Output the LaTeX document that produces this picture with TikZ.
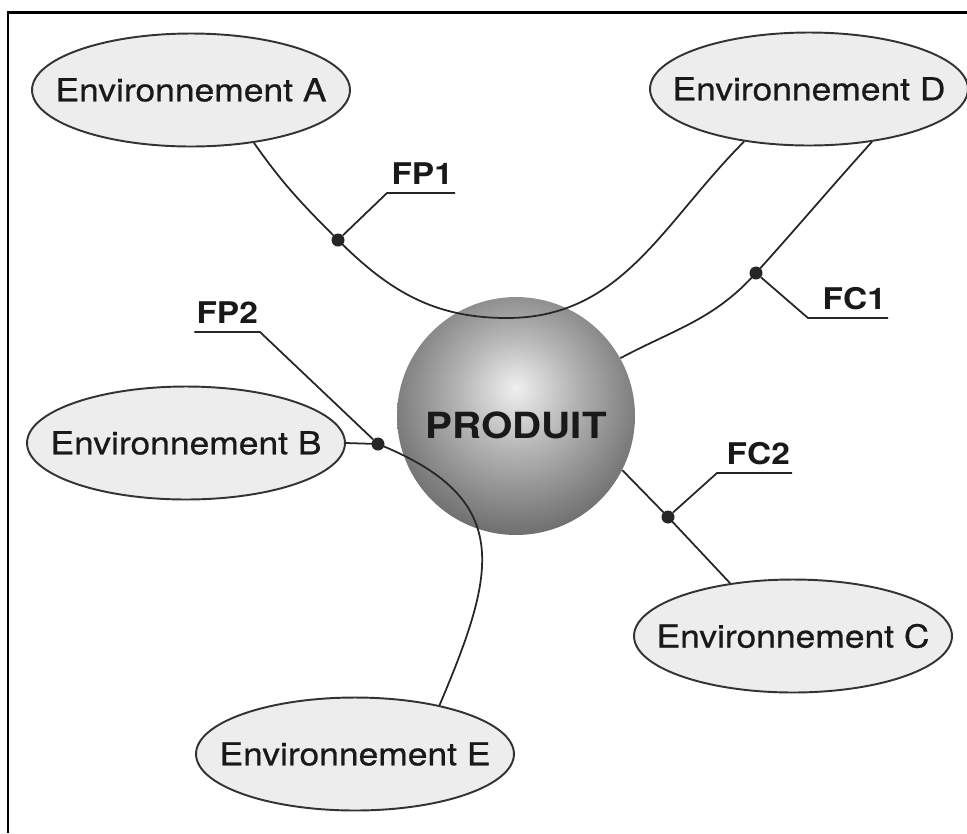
\documentclass[tikz,border=0pt]{standalone}
\usepackage{fontspec}
\setmainfont{TeX Gyre Heros}[FakeStretch=1.12]
\newfontfamily\envfont{TeX Gyre Heros}[FakeStretch=1.12, FakeBold=0.6]
\usepackage{tikz}
\usetikzlibrary{shapes.geometric}
\pgfdeclareradialshading{prodball}{\pgfpoint{0bp}{6bp}}{color(0bp)=(gray!12); color(12bp)=(gray!58); color(30bp)=(gray!82!black); color(50bp)=(gray!60!black); color(70bp)=(gray!60!black)}

\begin{document}
\begin{tikzpicture}[x=0.02cm, y=-0.02cm,
  env/.style={ellipse, draw=black!80, line width=1.1pt, fill=gray!14, minimum width=6.36cm, minimum height=2.26cm, inner xsep=-0.5cm, inner ysep=0pt, text=black!90, font=\envfont\fontsize{18}{21}\selectfont},
  dot/.style={circle, fill=black!85, minimum size=0.26cm, inner sep=0pt},
  lnk/.style={line width=1pt, black!85},
  lbl/.style={font=\fontsize{17}{20}\selectfont\bfseries, text=black!90, inner xsep=1pt, inner ysep=4.5pt, text depth=0pt}]
\useasboundingbox (0,0) rectangle (967,833);
\draw[line width=1.7pt] (8,833) -- (8,12) -- (967,12);
\node[circle, shade, shading=prodball, minimum size=4.76cm, inner sep=0pt,
  label={[font=\fontsize{20.5}{24}\selectfont\bfseries, text=black!90, yshift=-0.18cm]center:PRODUIT}] (prod) at (516,416) {};
\node[env] (envA) at (191,90) {Environnement A};
\node[env] (envD) at (809,89) {Environnement D};
\node[env] (envB) at (186,443) {Environnement B};
\node[env] (envC) at (793,636) {Environnement C};
\node[env] (envE) at (355,754) {Environnement E};
\node[dot] (fp1) at (338,240) {};
\node[dot] (fc1) at (756,273) {};
\node[dot] (fp2) at (378,444) {};
\node[dot] (fc2) at (668,517) {};
\coordinate (ubot) at (507,318);
\coordinate (fp1k) at (387,193);
\coordinate (fc1k) at (808,318);
\coordinate (fp2k) at (260,332);
\coordinate (fc2k) at (717,473);
\node[lbl, anchor=south east] (fp1t) at (455,193) {FP1};
\node[lbl, anchor=south east] (fc1t) at (888,318) {FC1};
\node[lbl, anchor=south east] (fp2t) at (260,332) {FP2};
\node[lbl, anchor=south east] (fc2t) at (792,473) {FC2};
\draw[lnk] (envA.-40) to[out=-55,in=135] (fp1.center) to[out=-45,in=180] (ubot) to[out=0,in=-135] (envD.-141);
\draw[lnk] (envD.-40) to[out=-132,in=48] (fc1.center) to[out=-132,in=28] (prod.29);
\draw[lnk] (prod.-27) -- (fc2.center) -- (envC.140);
\draw[lnk] (envB.east) -- (fp2.center) to[out=-22,in=67,looseness=1.4] (envE.30);
\draw[lnk] (fp1) -- (fp1k) -- (fp1t.south east);
\draw[lnk] (fc1) -- (fc1k) -- (fc1t.south east);
\draw[lnk] (fp2) -- (fp2k) -- (fp2t.south west);
\draw[lnk] (fc2) -- (fc2k) -- (fc2t.south east);
\end{tikzpicture}
\end{document}
